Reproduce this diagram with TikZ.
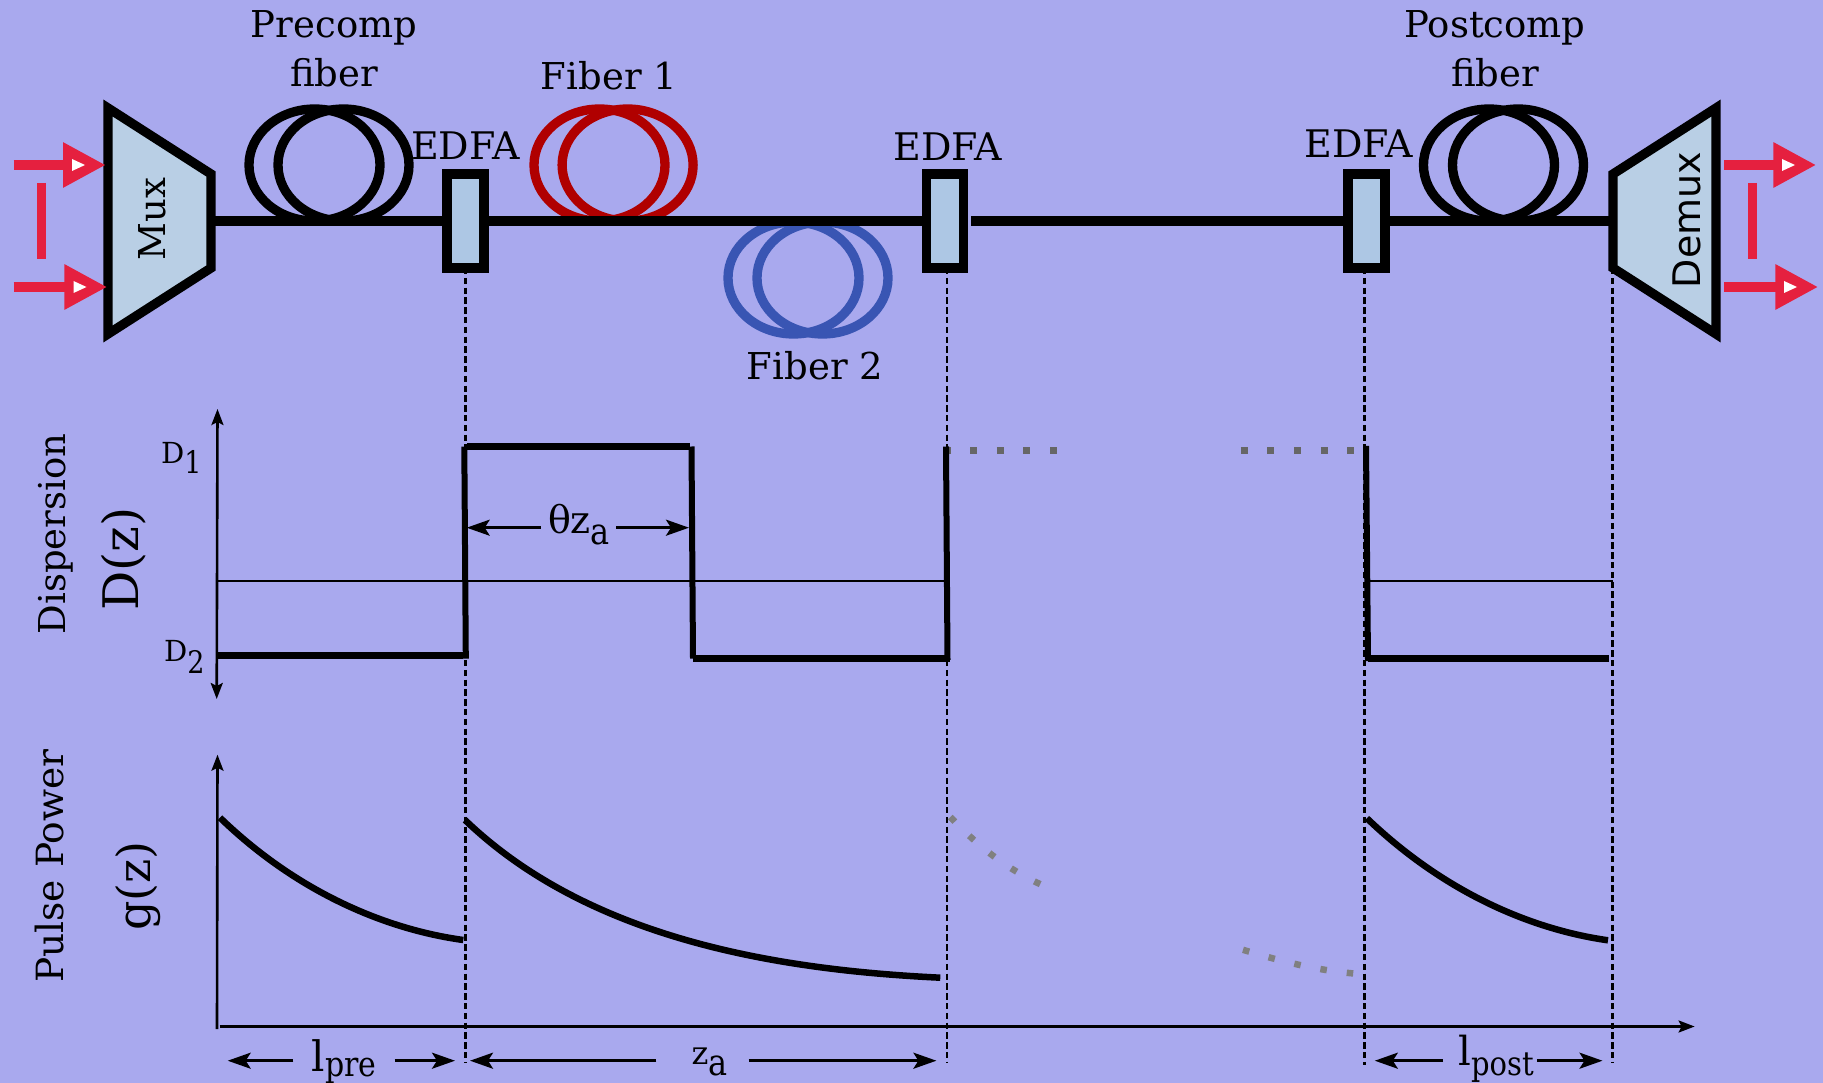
\documentclass[tikz,border=0pt]{standalone}
\usepackage{graphicx}
\usepackage{fontspec}
\setmainfont{DejaVu Serif}
\newfontfamily\demuxfont{DejaVu Sans}
\usetikzlibrary{arrows.meta,shapes.geometric}

\definecolor{bgblue}{HTML}{A9A9EE}
\definecolor{muxblue}{HTML}{B9CFE5}
\definecolor{edfablue}{HTML}{ADC7E4}
\definecolor{sigred}{HTML}{E5203F}
\definecolor{fibred}{HTML}{B00000}
\definecolor{fibblue}{HTML}{3955B3}
\definecolor{dotgray}{HTML}{666666}

\newcommand{\lowsub}[3]{\raisebox{-#1pt}{\scalebox{1}[1.15]{\fontsize{#2}{#2}\selectfont #3}}}

\begin{document}
\begin{tikzpicture}[x=1pt,y=-1pt,
    >={Stealth[length=23pt,width=16pt,inset=5pt]},
    txt/.style={
        inner sep=0,
        anchor=base,
        align=center,
        font=\fontsize{37}{49}\selectfont
        },
    coil/.style={
        ellipse,
        draw=black,
        line width=9.3pt,
        minimum width=131pt, minimum height=112pt,
        inner sep=0
        },
    edfa/.style={
        rectangle,
        draw=black,
        line width=9.3pt,
        fill=edfablue,
        minimum width=37pt, minimum height=94pt,
        inner sep=0, outer sep=0
        },
    muxbox/.style={draw=black, line width=9.3pt, fill=muxblue, miter limit=10},
    fiberline/.style={line width=9.3pt},
    sigline/.style={-{Triangle[length=42.6pt,width=43pt]},sigred,line width=9.3pt},
    sigbar/.style={sigred,line width=9.3pt},
    sigmark/.style={fill=white},
    guide/.style={line width=2.8pt,dash pattern=on 6.4pt off 3.4pt},
    axis/.style={line width=2.6pt,>={Stealth[length=16pt,width=12pt,inset=3pt]}},
    level/.style={line width=6.5pt},
    jump/.style={line width=6pt},
    decay/.style={line width=6.5pt},
    zero/.style={line width=2pt},
    span/.style={<->,line width=2.8pt},
    dotsflat/.style={line width=7pt,dash pattern=on 7pt off 19.65pt,dotgray},
    dotscurve/.style={line width=6.5pt,dash pattern=on 6.5pt off 20.1pt,gray}]

    \useasboundingbox (0,0) rectangle (1823,1083);
    \fill[bgblue] (0,0) rectangle (1823,1083);

    % the fiber coils
    \node (pre_a) [coil] at (314.5,165) {};
    \node (pre_b) [coil] at (343.5,165) {};
    \node (fib1_a) [coil, draw=fibred] at (599.5,165) {};
    \node (fib1_b) [coil, draw=fibred] at (627.6,165) {};
    \node (fib2_a) [coil, draw=fibblue] at (793.5,278) {};
    \node (fib2_b) [coil, draw=fibblue] at (822.5,278) {};
    \node (post_a) [coil] at (1489,165) {};
    \node (post_b) [coil] at (1518,165) {};

    \coordinate (mux_out) at (211,221);
    \coordinate (demux_in) at (1613,221);
    \coordinate (demux_low) at (1613,268);
    \coordinate (line_restart) at (971,221);

    \node (edfa1) [edfa] at (465.5,221) {};
    \node (edfa2) [edfa] at (945,221) {};
    \node (edfa3) [edfa] at (1366.5,221) {};

    \draw[fiberline] (mux_out) -- (edfa1.west);
    \draw[fiberline] (edfa1.east) -- (edfa2.west);
    \draw[fiberline] (line_restart) -- (edfa3.west);
    \draw[fiberline] (edfa3.east) -- (demux_in);

    \draw[muxbox] (108,108) -- (211,174) -- (211,268) -- (108,334) -- cycle;
    \draw[muxbox] (1716,108) -- (1613,174) -- (1613,268) -- (1716,334) -- cycle;

    \node (mux_lbl) [txt, rotate=90] at (165.5,219) {Mux};
    \node (demux_lbl) [txt, rotate=90, font=\fontsize{38}{38}\selectfont\demuxfont] at (1700,220) {Demux};

    \node (pre_lbl) [txt] at (334,87) {Precomp\\fiber};
    \node (post_lbl) [txt] at (1495,87) {Postcomp\\fiber};
    \node (fib1_lbl) [txt] at (609,90) {Fiber 1};
    \node (fib2_lbl) [txt] at (815,379) {Fiber 2};
    \node (edfa1_lbl) [txt, font=\fontsize{38}{38}\selectfont] at (465.5,160) {EDFA};
    \node (edfa2_lbl) [txt, font=\fontsize{38}{38}\selectfont] at (948,161) {EDFA};
    \node (edfa3_lbl) [txt, font=\fontsize{38}{38}\selectfont] at (1359,158) {EDFA};

    % input and output arrows
    \coordinate (in1) at (13.5,165);
    \coordinate (in1_end) at (105.6,165);
    \coordinate (in2) at (13.5,287);
    \coordinate (in2_end) at (107,287);
    \coordinate (out1) at (1724,165);
    \coordinate (out1_end) at (1816,165);
    \coordinate (out2) at (1724,287);
    \coordinate (out2_end) at (1818,287);
    \draw[sigline] (in1) -- (in1_end);
    \draw[sigline] (in2) -- (in2_end);
    \draw[sigline] (out1) -- (out1_end);
    \draw[sigline] (out2) -- (out2_end);
    \fill[sigmark] (72,159) -- (85,165) -- (72,171) -- cycle;
    \fill[sigmark] (73.5,281) -- (86.5,287) -- (73.5,293) -- cycle;
    \fill[sigmark] (1782,159) -- (1795,165) -- (1782,171) -- cycle;
    \fill[sigmark] (1784,281) -- (1797,287) -- (1784,293) -- cycle;
    \draw[sigbar] (41.7,183) -- (41.7,259);
    \draw[sigbar] (1752.3,183) -- (1752.3,259);

    % vertical guides
    \coordinate (guide1_end) at (465.5,1063);
    \coordinate (guide2_end) at (947,1062);
    \coordinate (guide3_end) at (1364.7,1065);
    \coordinate (guide4_end) at (1612.7,1063);
    \draw[guide] (edfa1.south) -- (guide1_end);
    \draw[guide] (edfa2.south -| guide2_end) -- (guide2_end);
    \draw[guide] (edfa3.south -| guide3_end) -- (guide3_end);
    \draw[guide] (demux_low -| guide4_end) -- (guide4_end);

    % dispersion map
    \coordinate (disp_top) at (217.5,409);
    \coordinate (disp_bot) at (216.7,699);
    \draw[axis,<->] (disp_top) -- (disp_bot);
    \draw[zero] (217,580.5) -- (947,580.5);
    \draw[zero] (1370,580.7) -- (1612.7,580.7);

    \draw[dotsflat] (943.5,450.7) -- (1057.2,450.7);
    \draw[dotsflat] (1240.8,450.7) -- (1354.5,450.7);

    \draw[level] (217,655.7) -- (463,655.7);
    \draw[jump] (464.3,446.5) -- (465.8,658.7);
    \draw[level] (467,446.3) -- (690,446.3);
    \draw[jump] (691.5,446.5) -- (693,658.7);
    \draw[level] (693,658.7) -- (950,658.7);
    \draw[jump] (946,446.5) -- (947.5,660);
    \draw[jump] (1366,446) -- (1368,661);
    \draw[level] (1368,658.7) -- (1609,658.7);

    \node (thz_lbl) [txt, font=\fontsize{38}{38}\selectfont] at (579,533) {θz\lowsub{11}{32}{a}};
    \coordinate (thz_l) at (466.7,527.7);
    \coordinate (thz_r) at (689,527.7);
    \draw[span,->] (thz_lbl.west |- thz_l) ++(-7,0) -- (thz_l);
    \draw[span,->] (thz_lbl.east |- thz_r) ++(6,0) -- (thz_r);

    \node (disp_lbl) [txt, rotate=90] at (65,534) {Dispersion};
    \node (dz_lbl) [txt, rotate=90, font=\fontsize{49}{49}\selectfont] at (138,559) {D(z)};
    \node (d1_lbl) [txt, anchor=base west, font=\fontsize{29}{29}\selectfont] at (161,463) {D\lowsub{10}{27}{1}};
    \node (d2_lbl) [txt, anchor=base west, font=\fontsize{29}{29}\selectfont] at (164,661) {D\lowsub{12}{27}{2}};

    % pulse power
    \coordinate (pow_top) at (217.5,754.7);
    \coordinate (pow_org) at (217,1029);
    \coordinate (pow_start) at (219.5,1026.5);
    \coordinate (pow_end) at (1694.6,1026.5);
    \draw[axis,->] (pow_org) -- (pow_top);
    \draw[axis,->] (pow_start) -- (pow_end);

    \draw[decay] (220,817.7) .. controls (300,895) and (390,930) .. (463.3,940);
    \draw[decay] (465,820) .. controls (590,940) and (780,970) .. (940.3,977.7);
    \draw[decay] (1366.9,818.3) .. controls (1447,895) and (1535,930) .. (1608,940.3);
    \draw[dotscurve] (950.3,817) .. controls (978,846) and (1005,868) .. (1042,885);
    \draw[dotscurve] (1243,949.8) .. controls (1280,961) and (1315,970) .. (1354,973.5);

    \node (pow_lbl) [txt, rotate=90, font=\fontsize{37.5}{37.5}\selectfont] at (63.5,866) {Pulse Power};
    \node (gz_lbl) [txt, rotate=90, font=\fontsize{46}{46}\selectfont] at (150,886) {g(z)};

    % lengths below the axis
    \node (lpre_lbl) [txt, font=\fontsize{42}{42}\selectfont] at (344,1071.7) {l\lowsub{5}{30}{pre}};
    \node (za_lbl) [txt, font=\fontsize{32}{32}\selectfont] at (709.5,1064) {z\lowsub{11}{32}{a}};
    \node (lpost_lbl) [txt, font=\fontsize{40}{40}\selectfont] at (1496,1065) {l\lowsub{10}{29}{post}};

    \coordinate (lpre_l) at (227.7,1060.7);
    \coordinate (lpre_r) at (455,1060.7);
    \coordinate (za_l) at (470,1060.7);
    \coordinate (za_r) at (936.4,1060.7);
    \coordinate (lpost_l) at (1374.8,1060.7);
    \coordinate (lpost_r) at (1602.5,1060.7);
    \draw[span,->] (lpre_lbl.west |- lpre_l) ++(-18,0) -- (lpre_l);
    \draw[span,->] (lpre_lbl.east |- lpre_r) ++(18,0) -- (lpre_r);
    \draw[span,->] (za_lbl.west |- za_l) ++(-35,0) -- (za_l);
    \draw[span,->] (za_lbl.east |- za_r) ++(21,0) -- (za_r);
    \draw[span,->] (lpost_lbl.west |- lpost_l) ++(-15,0) -- (lpost_l);
    \draw[span,->] (lpost_lbl.east |- lpost_r) ++(3,0) -- (lpost_r);
\end{tikzpicture}
\end{document}
